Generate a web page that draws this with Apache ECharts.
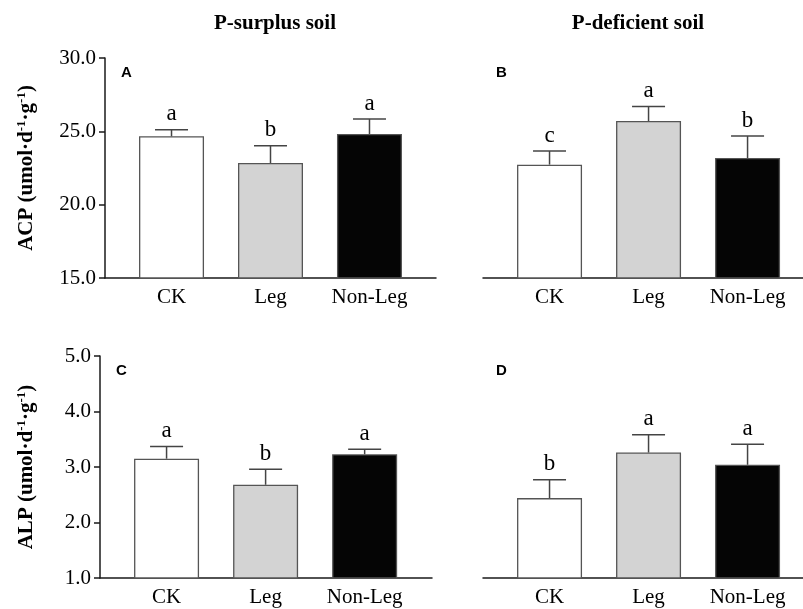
<!DOCTYPE html>
<html>
<head>
<meta charset="utf-8">
<script src="https://cdn.jsdelivr.net/npm/echarts@6/dist/echarts.min.js"></script>
<style>
  html, body { margin: 0; padding: 0; background: #fff; }
  #chart { width: 803px; height: 609px; }
</style>
</head>
<body>
<div id="chart"></div>
<script>
const categories = ['CK', 'Leg', 'Non-Leg'];
const barColors = ['#ffffff', '#d3d3d3', '#050505'];

const acpSurplus = [24.66, 22.84, 24.82];
const acpSurplusErr = [0.45, 1.18, 1.02];
const acpSurplusSig = ['a', 'b', 'a'];

const acpDeficient = [22.73, 25.70, 23.18];
const acpDeficientErr = [0.93, 1.0, 1.5];
const acpDeficientSig = ['c', 'a', 'b'];

const alpSurplus = [3.15, 2.68, 3.23];
const alpSurplusErr = [0.22, 0.28, 0.09];
const alpSurplusSig = ['a', 'b', 'a'];

const alpDeficient = [2.44, 3.26, 3.04];
const alpDeficientErr = [0.33, 0.32, 0.37];
const alpDeficientSig = ['b', 'a', 'a'];

const acpTicks = [15, 30, 5];
const alpTicks = [1, 5, 1];

const serif = "'Liberation Serif', 'Times New Roman', serif";
const sans = "'Liberation Sans', Arial, sans-serif";

const panels = [
  { left: 105, top: 58, width: 331, height: 220, vals: acpSurplus, err: acpSurplusErr, sig: acpSurplusSig, ticks: acpTicks, showY: true, name: 'ACP', xmax: 2.672 },
  { left: 483, top: 58, width: 320, height: 220, vals: acpDeficient, err: acpDeficientErr, sig: acpDeficientSig, ticks: acpTicks, showY: false, name: 'ACP', xmax: 2.56 },
  { left: 100, top: 356, width: 332, height: 222, vals: alpSurplus, err: alpSurplusErr, sig: alpSurplusSig, ticks: alpTicks, showY: true, name: 'ALP', xmax: 2.68 },
  { left: 483, top: 356, width: 320, height: 222, vals: alpDeficient, err: alpDeficientErr, sig: alpDeficientSig, ticks: alpTicks, showY: false, name: 'ALP', xmax: 2.56 }
];
const letters = ['A', 'B', 'C', 'D'];

const lineColor = '#1a1a1a';

const grid = panels.map(p => ({ left: p.left, top: p.top, width: p.width, height: p.height }));

const xAxis = panels.map((p, i) => ({
  type: 'value',
  gridIndex: i,
  min: -0.672,
  max: p.xmax,
  splitLine: { show: false },
  axisTick: { show: false },
  axisLine: { show: true, onZero: false, lineStyle: { color: lineColor, width: 1.5 } },
  axisLabel: {
    customValues: [0, 1, 2],
    formatter: v => categories[Math.round(v)],
    color: '#000',
    fontFamily: serif,
    fontSize: 21,
    margin: 9
  }
}));

const yAxis = panels.map((p, i) => ({
  type: 'value',
  gridIndex: i,
  show: p.showY,
  min: p.ticks[0],
  max: p.ticks[1],
  interval: p.ticks[2],
  splitLine: { show: false },
  axisLine: { show: true, onZero: false, lineStyle: { color: lineColor, width: 1.5 } },
  axisTick: { show: true, length: 6, lineStyle: { color: lineColor, width: 1.5 } },
  axisLabel: {
    formatter: v => v.toFixed(1),
    color: '#000',
    fontFamily: serif,
    fontSize: 21,
    margin: 9
  },
  name: '{b|' + p.name + ' (umol·d}{s|-1}{b|·g}{s|-1}{b|)}',
  nameLocation: 'middle',
  nameRotate: 90,
  nameGap: i === 0 ? 66 : 61,
  nameTextStyle: {
    rich: {
      b: { fontFamily: serif, fontWeight: 'bold', fontSize: 21, color: '#000', lineHeight: 24 },
      s: { fontFamily: serif, fontWeight: 'bold', fontSize: 13, color: '#000', lineHeight: 24, verticalAlign: 'top', padding: [0, 0, 8, 0] }
    }
  }
}));

const series = [];
panels.forEach((p, i) => {
  series.push({
    type: 'bar',
    xAxisIndex: i,
    yAxisIndex: i,
    barWidth: 65,
    animation: false,
    data: p.vals.map((v, k) => ({
      value: [k, v],
      itemStyle: { color: barColors[k], borderColor: '#555', borderWidth: 1.3 }
    }))
  });
  series.push({
    type: 'custom',
    xAxisIndex: i,
    yAxisIndex: i,
    animation: false,
    z: 5,
    data: p.vals.map((v, k) => [k, v, p.err[k]]),
    renderItem: (params, api) => {
      const x = api.value(0), y = api.value(1), e = api.value(2);
      const base = api.coord([x, y]);
      const top = api.coord([x, y + e]);
      const style = { stroke: '#444', lineWidth: 1.5 };
      return {
        type: 'group',
        children: [
          { type: 'line', shape: { x1: base[0], y1: base[1], x2: top[0], y2: top[1] }, style: style },
          { type: 'line', shape: { x1: top[0] - 16.5, y1: top[1], x2: top[0] + 16.5, y2: top[1] }, style: style },
          {
            type: 'text',
            x: top[0],
            y: top[1] - 4,
            style: {
              text: p.sig[params.dataIndex],
              align: 'center',
              verticalAlign: 'bottom',
              fontFamily: serif,
              fontSize: 23,
              fill: '#000'
            }
          }
        ]
      };
    }
  });
});

const title = [
  { text: 'P-surplus soil', left: 270, top: 8, textAlign: 'center', textStyle: { fontFamily: serif, fontWeight: 'bold', fontSize: 21, color: '#000' } },
  { text: 'P-deficient soil', left: 633, top: 8, textAlign: 'center', textStyle: { fontFamily: serif, fontWeight: 'bold', fontSize: 21, color: '#000' } }
].concat(panels.map((p, i) => ({
  text: letters[i],
  left: p.left + (p.showY ? 16 : 13),
  top: p.top + 7,
  padding: 0,
  textStyle: { fontFamily: sans, fontWeight: 'bold', fontSize: 15, color: '#000' }
})));

const chart = echarts.init(document.getElementById('chart'));
chart.setOption({
  backgroundColor: '#fff',
  animation: false,
  title: title,
  grid: grid,
  xAxis: xAxis,
  yAxis: yAxis,
  series: series
});
</script>
</body>
</html>
